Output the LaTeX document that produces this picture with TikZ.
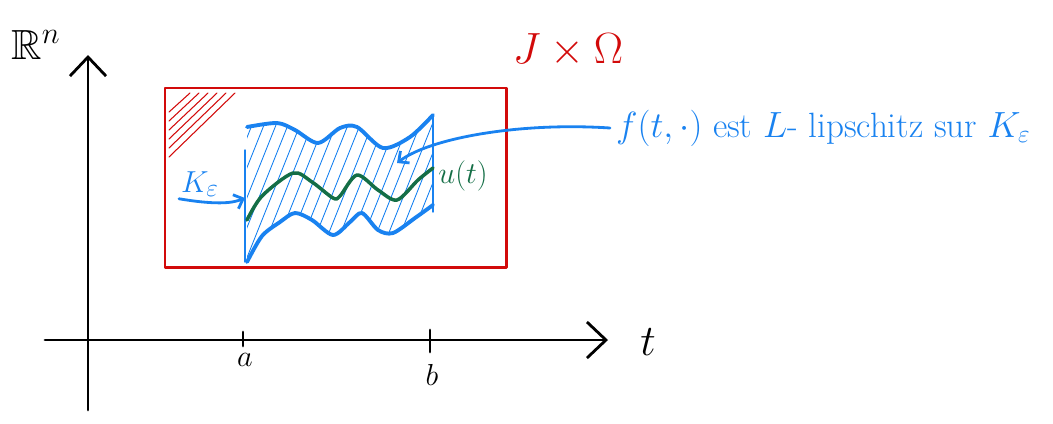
\documentclass[tikz,border=0pt]{standalone}
\usepackage{amsmath,amssymb}
\usetikzlibrary{arrows.meta}
\definecolor{inkblue}{RGB}{25,130,240}
\definecolor{inkred}{RGB}{210,10,10}
\definecolor{inkgreen}{RGB}{20,110,70}

\begin{document}
\begin{tikzpicture}[x=0.02cm,y=-0.02cm,line cap=round,line join=round,
  axis/.style={line width=1.6pt,-{Straight Barb[length=0.38cm,width=0.72cm]}},
  tick/.style={line width=1.6pt},
  box/.style={line width=1.7pt,inkred},
  edge/.style={line width=2.2pt,inkblue},
  side/.style={line width=0.8pt,inkblue},
  hatchline/.style={line width=0.5pt,inkblue},
  pointer/.style={line width=1.6pt,inkblue,-{Straight Barb[length=0.16cm,width=0.3cm]}},
  big/.style={font=\fontsize{24}{28}\selectfont},
  mid/.style={font=\fontsize{19}{22}\selectfont},
  hand/.style={font=\fontsize{20}{24}\selectfont}]
  \useasboundingbox (0,0) rectangle (1053,423);

  % axes
  \draw[axis] (88,410) -- (88,55);
  \draw[axis] (45,340) -- (608,340);
  \draw[tick] (243,332) -- (243,346);
  \draw[tick] (430,330) -- (430,352);
  \node[big] (rn) at (36,45) {$\mathbb{R}^n$};
  \node[big] (tlab) at (648,342) {$t$};
  \node[mid] (alab) at (245,360) {$a$};
  \node[mid] (blab) at (432,375) {$b$};

  % J x Omega
  \draw[box] (165,88) rectangle (506,267);
  \node[big,text=inkred] (jom) at (568,50) {$J\times\Omega$};
  \foreach \k in {0,...,5} \draw[inkred,line width=0.6pt] (169,112+9*\k) -- (190+9*\k,93);

  % K_eps
  \begin{scope}
    \clip plot[smooth] coordinates {(247,127) (277,123) (295,130) (318,143) (340,128) (357,127) (383,148) (410,137) (433,115)}
      -- plot[smooth] coordinates {(433,207) (415,218) (393,233) (378,230) (362,213) (350,222) (333,235) (312,220) (295,213) (280,222) (262,236) (247,262)} -- cycle;
    \foreach \x in {170,182,...,450} \draw[hatchline] (\x,270) -- (\x+64,110);
  \end{scope}
  \draw[edge] plot[smooth] coordinates {(247,127) (277,123) (295,130) (318,143) (340,128) (357,127) (383,148) (410,137) (433,115)};
  \draw[edge] plot[smooth] coordinates {(247,262) (262,236) (280,222) (295,213) (312,220) (333,235) (350,222) (362,213) (378,230) (393,233) (415,218) (433,205)};
  \draw[side] (245,150) -- (245,262);
  \draw[side] (433,115) -- (433,212);
  \draw[line width=2pt,inkgreen] plot[smooth] coordinates {(247,220) (262,196) (293,173) (312,182) (333,198) (340,196) (357,175) (378,190) (397,200) (418,180) (433,168)};

  % labels
  \node[mid,text=inkblue,inner sep=1pt] (keps) at (200,184) {$K_\varepsilon$};
  \node[mid,text=inkgreen] (ulab) at (463,176) {$u(t)$};
  \node[hand,text=inkblue,anchor=west] (lip) at (610,128) {$f(t,\cdot)$ est $L$- lipschitz sur $K_\varepsilon$};
  \coordinate (kedge) at (245,198);
  \coordinate (kin) at (397,163);
  \draw[pointer] (keps.south west) .. controls (222,206) and (235,202) .. (kedge);
  \draw[pointer] (lip.west) .. controls (520,122) and (430,138) .. (kin);
\end{tikzpicture}
\end{document}
